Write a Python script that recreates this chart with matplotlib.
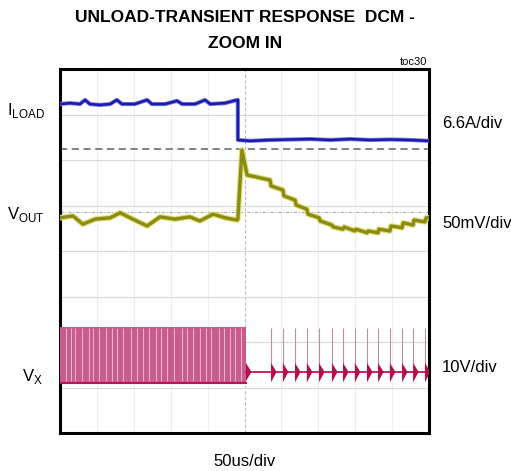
import matplotlib
matplotlib.use('Agg')
import matplotlib.pyplot as plt

# scope screen, everything in divisions (10 x 8)
iload_t = [0, 0.27, 0.54, 0.68, 0.81, 1.08, 1.36, 1.54, 1.68, 2.03, 2.36, 2.49, 2.85, 3.17, 3.31,
           3.66, 3.93, 4.07, 4.47, 4.80, 4.82, 4.82, 5.15, 5.69, 6.23, 6.78, 7.32, 7.86, 8.40, 8.94,
           9.49, 10.0]
iload_v = [7.23, 7.25, 7.23, 7.32, 7.23, 7.21, 7.23, 7.32, 7.23, 7.23, 7.32, 7.23, 7.23, 7.30, 7.23,
           7.23, 7.32, 7.23, 7.25, 7.32, 7.32, 6.44, 6.42, 6.44, 6.45, 6.46, 6.44, 6.46, 6.44, 6.45,
           6.44, 6.42]

vout_t = [0, 0.35, 0.62, 0.95, 1.36, 1.63, 1.90, 2.36, 2.71, 3.12, 3.52, 3.79, 4.15, 4.47, 4.80,
          4.82, 4.93, 5.07, 5.69, 5.72, 6.04, 6.07, 6.37, 6.40, 6.69, 6.72, 7.02, 7.05, 7.37, 7.40,
          7.67, 7.70, 7.99, 8.02, 8.32, 8.35, 8.62, 8.64, 8.94, 8.97, 9.27, 9.30, 9.57, 9.59, 9.89,
          9.92, 10.0]
vout_v = [4.73, 4.77, 4.59, 4.70, 4.73, 4.84, 4.73, 4.55, 4.75, 4.70, 4.75, 4.66, 4.81, 4.73, 4.68,
          4.70, 6.22, 5.67, 5.56, 5.43, 5.34, 5.21, 5.12, 5.01, 4.92, 4.81, 4.73, 4.66, 4.57, 4.53,
          4.48, 4.53, 4.44, 4.48, 4.40, 4.44, 4.40, 4.48, 4.44, 4.55, 4.51, 4.62, 4.57, 4.68, 4.64,
          4.73, 4.73]

# VX: dense switching burst, then single DCM pulses
vx_burst = [0.0, 5.04]
vx_high = 2.33
vx_low = 1.10
vx_base = 1.34
vx_stripes = [0.15, 0.3, 0.42, 0.6, 0.78, 0.9, 1.05, 1.25, 1.4, 1.55, 1.7, 1.92, 2.1, 2.25, 2.4,
              2.6, 2.75, 2.9, 3.1, 3.3, 3.45, 3.6, 3.8, 3.95, 4.1, 4.3, 4.45, 4.6, 4.75, 4.9]
vx_pulses = [5.72, 6.04, 6.37, 6.69, 7.02, 7.37, 7.67, 7.99, 8.32, 8.62, 8.94, 9.27, 9.57, 9.89]

iload_gnd = 6.24
vout_ref = 4.86

fig = plt.figure(figsize=(5.11, 4.71), dpi=100)
ax = fig.add_axes([60 / 511, 1 - 433 / 471, 369 / 511, 364 / 471])
ax.set_xlim(0, 10)
ax.set_ylim(0, 8)
ax.set_xticks([])
ax.set_yticks([])
for s in ax.spines.values():
    s.set_linewidth(2.2)
    s.set_color('black')

for i in range(1, 10):
    if i == 5:
        ax.axvline(i, color='#bbbbbb', lw=0.8, ls=(0, (3, 2)), zorder=1)
    else:
        ax.axvline(i, color='#eeeeee', lw=0.8, zorder=1)
for j in range(1, 8):
    ax.axhline(j, color='#d8d8d8', lw=0.8, zorder=1)

ax.axhline(iload_gnd, color='#777777', lw=1.3, ls=(0, (4, 2.5)), zorder=2)
ax.axhline(vout_ref, color='#aaaaaa', lw=0.8, ls=(0, (3, 1.5, 1, 1.5)), zorder=2)

# ILOAD
ax.plot(iload_t, iload_v, color='#7a7ad8', lw=3.0, zorder=3)
ax.plot(iload_t, iload_v, color='#1a1ab0', lw=1.8, zorder=4)

# VOUT
ax.plot(vout_t, vout_v, color='#dede70', lw=4.0, zorder=3)
ax.plot(vout_t, vout_v, color='#8a8a14', lw=2.4, zorder=4)

# VX burst
ax.fill_between(vx_burst, vx_low, vx_high, color='#c85a8c', lw=0, zorder=3)
ax.vlines(vx_stripes, vx_low + 0.05, vx_high - 0.03, color='#eab2ca', lw=0.8, zorder=4)
ax.plot(vx_burst, [vx_low, vx_low], color='#c0105c', lw=1.5, zorder=5)
ax.plot([vx_burst[1], 10], [vx_base, vx_base], color='#c8105c', lw=1.3, zorder=5)

tri_w = 0.15
ax.fill([vx_burst[1], vx_burst[1], vx_burst[1] + tri_w],
        [vx_base - 0.2, vx_base + 0.2, vx_base], color='#b0104e', lw=0, zorder=5)
ax.vlines(vx_pulses, vx_low + 0.05, vx_high - 0.02, color='#b8909f', lw=0.8, zorder=4)
for p in vx_pulses:
    ax.fill([p, p, p + tri_w], [vx_base - 0.22, vx_base + 0.2, vx_base],
            color='#b0104e', lw=0, zorder=5)

txt = dict(family=['Liberation Sans', 'DejaVu Sans'])
fig.text(245 / 511, 1 - 17 / 471, 'UNLOAD-TRANSIENT RESPONSE  DCM -', ha='center', va='center',
         fontsize=12.5, fontweight='bold', **txt)
fig.text(245 / 511, 1 - 44 / 471, 'ZOOM IN', ha='center', va='center',
         fontsize=12.5, fontweight='bold', **txt)
fig.text(427 / 511, 1 - 62 / 471, 'toc30', ha='right', va='center', fontsize=8, **txt)

fig.text(7 / 511, 1 - 111 / 471, r'I$_\mathregular{LOAD}$', ha='left', va='center', fontsize=12, **txt)
fig.text(7 / 511, 1 - 214 / 471, r'V$_\mathregular{OUT}$', ha='left', va='center', fontsize=12, **txt)
fig.text(22 / 511, 1 - 376 / 471, r'V$_\mathregular{X}$', ha='left', va='center', fontsize=12, **txt)

fig.text(442 / 511, 1 - 123 / 471, '6.6A/div', ha='left', va='center', fontsize=12, **txt)
fig.text(442 / 511, 1 - 223 / 471, '50mV/div', ha='left', va='center', fontsize=12, **txt)
fig.text(442 / 511, 1 - 368 / 471, '10V/div', ha='left', va='center', fontsize=12, **txt)
fig.text(245 / 511, 1 - 462 / 471, '50us/div', ha='center', va='center', fontsize=12, **txt)

fig.savefig('out.png', dpi=100)
